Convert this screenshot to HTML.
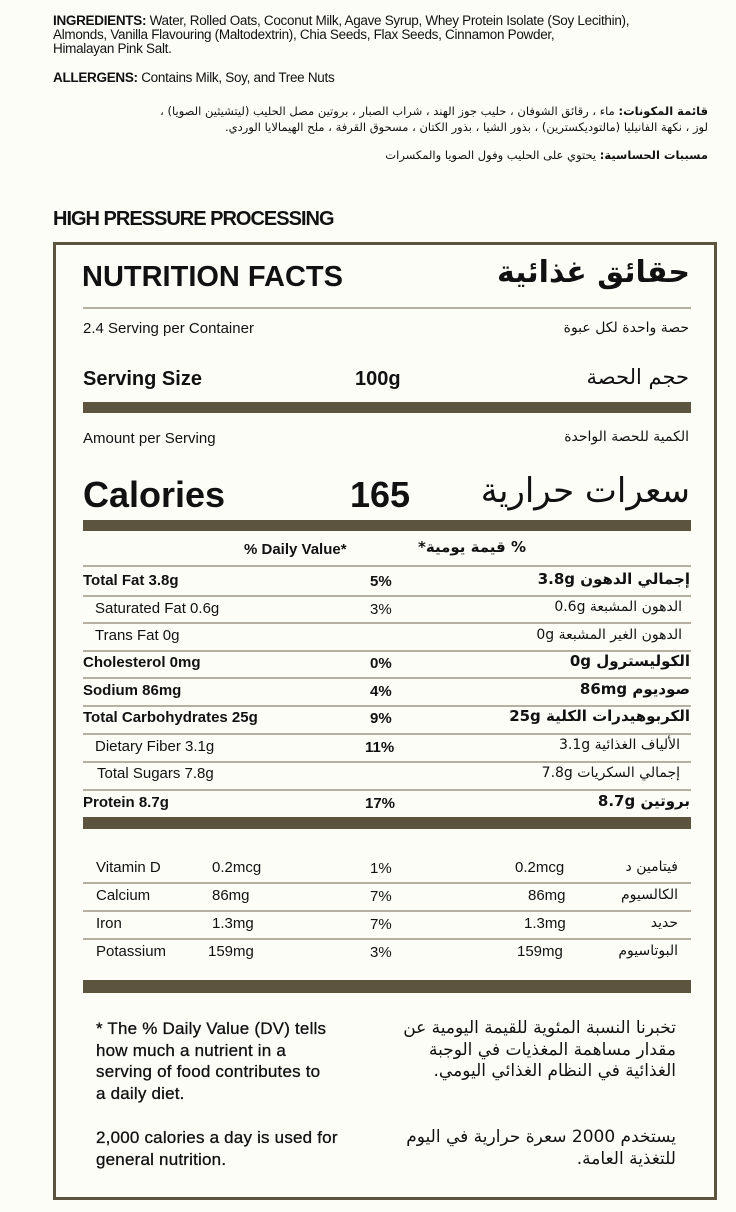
<!DOCTYPE html>
<html><head><meta charset="utf-8"><style>
body{margin:0;width:736px;height:1212px;background:#fdfdf8;position:relative;overflow:hidden;font-family:"Liberation Sans","DejaVu Sans",sans-serif;color:#111}
.a{position:absolute;white-space:nowrap;line-height:1}
.r{position:absolute;white-space:nowrap;line-height:1;direction:rtl;text-align:right;font-family:"DejaVu Sans",sans-serif}
.b{font-weight:bold}
.ln{position:absolute;left:83px;width:608px;height:2px;background:#b5b0a2}
.bar{position:absolute;left:83px;width:608px;background:#5d5440}
.box{position:absolute;left:53px;top:242px;width:658px;height:952px;border:3px solid #5d5440}
</style></head><body>
<div class="a" style="left:53px;top:14px;font-size:13.5px;letter-spacing:-0.3px"><b>INGREDIENTS:</b> Water, Rolled Oats, Coconut Milk, Agave Syrup, Whey Protein Isolate (Soy Lecithin),</div>
<div class="a" style="left:53px;top:28px;font-size:13.5px;letter-spacing:-0.3px">Almonds, Vanilla Flavouring (Maltodextrin), Chia Seeds, Flax Seeds, Cinnamon Powder,</div>
<div class="a" style="left:53px;top:42px;font-size:13.5px;letter-spacing:-0.3px">Himalayan Pink Salt.</div>
<div class="a" style="left:53px;top:71px;font-size:13.5px;letter-spacing:-0.3px"><b>ALLERGENS:</b> Contains Milk, Soy, and Tree Nuts</div>
<div class="r" style="right:28px;top:106px;font-size:11.5px"><b>قائمة المكونات:</b> ماء ، رقائق الشوفان ، حليب جوز الهند ، شراب الصبار ، بروتين مصل الحليب (ليتشيثين الصويا) ،</div>
<div class="r" style="right:28px;top:122px;font-size:11.5px">لوز ، نكهة الفانيليا (مالتوديكسترين) ، بذور الشيا ، بذور الكتان ، مسحوق القرفة ، ملح الهيمالايا الوردي.</div>
<div class="r" style="right:28px;top:150px;font-size:11.5px"><b>مسببات الحساسية:</b> يحتوي على الحليب وفول الصويا والمكسرات</div>
<div class="a b" style="left:53px;top:209px;font-size:20px;letter-spacing:-1px">HIGH PRESSURE PROCESSING</div>
<div class="box"></div>
<div class="a b" style="left:82px;top:263px;font-size:29px">NUTRITION FACTS</div>
<div class="r b" style="right:46px;top:258px;font-size:30px">حقائق غذائية</div>
<div class="ln" style="top:307px"></div>
<div class="a" style="left:83px;top:321px;font-size:15px">2.4 Serving per Container</div>
<div class="r" style="right:47px;top:321px;font-size:14px">حصة واحدة لكل عبوة</div>
<div class="a b" style="left:83px;top:369px;font-size:20px">Serving Size</div>
<div class="a b" style="left:355px;top:369px;font-size:20px">100g</div>
<div class="r" style="right:47px;top:367px;font-size:21px">حجم الحصة</div>
<div class="bar" style="top:402px;height:11px"></div>
<div class="a" style="left:83px;top:431px;font-size:15px">Amount per Serving</div>
<div class="r" style="right:47px;top:430px;font-size:14px">الكمية للحصة الواحدة</div>
<div class="a b" style="left:83px;top:477px;font-size:36px">Calories</div>
<div class="a b" style="left:350px;top:477px;font-size:36px">165</div>
<div class="r" style="right:46px;top:474px;font-size:34px">سعرات حرارية</div>
<div class="bar" style="top:520px;height:11px"></div>
<div class="a b" style="left:244px;top:542px;font-size:15px">% Daily Value*</div>
<div class="r b" style="right:210px;top:540px;font-size:15px">% قيمة يومية*</div>
<div class="ln" style="top:565px"></div>

<div class="a b" style="left:83px;top:573px;font-size:15px">Total Fat 3.8g</div><div class="a b" style="left:370px;top:574px;font-size:15px">5%</div><div class="r b" style="right:46px;top:572px;font-size:15px">إجمالي الدهون 3.8g</div>
<div class="ln" style="top:595px"></div>
<div class="a" style="left:95px;top:601px;font-size:15px">Saturated Fat 0.6g</div><div class="a" style="left:370px;top:602px;font-size:15px">3%</div><div class="r" style="right:54px;top:600px;font-size:14px">الدهون المشبعة 0.6g</div>
<div class="ln" style="top:622px"></div>
<div class="a" style="left:95px;top:628px;font-size:15px">Trans Fat 0g</div><div class="r" style="right:54px;top:628px;font-size:14px">الدهون الغير المشبعة 0g</div>
<div class="ln" style="top:650px"></div>
<div class="a b" style="left:83px;top:655px;font-size:15px">Cholesterol 0mg</div><div class="a b" style="left:370px;top:656px;font-size:15px">0%</div><div class="r b" style="right:46px;top:654px;font-size:15px">الكوليسترول 0g</div>
<div class="ln" style="top:677px"></div>
<div class="a b" style="left:83px;top:683px;font-size:15px">Sodium 86mg</div><div class="a b" style="left:370px;top:684px;font-size:15px">4%</div><div class="r b" style="right:46px;top:682px;font-size:15px">صوديوم 86mg</div>
<div class="ln" style="top:705px"></div>
<div class="a b" style="left:83px;top:710px;font-size:15px">Total Carbohydrates 25g</div><div class="a b" style="left:370px;top:711px;font-size:15px">9%</div><div class="r b" style="right:46px;top:709px;font-size:15px">الكربوهيدرات الكلية 25g</div>
<div class="ln" style="top:733px"></div>
<div class="a" style="left:95px;top:739px;font-size:15px">Dietary Fiber 3.1g</div><div class="a b" style="left:365px;top:740px;font-size:15px">11%</div><div class="r" style="right:56px;top:738px;font-size:14px">الألياف الغذائية 3.1g</div>
<div class="ln" style="top:761px"></div>
<div class="a" style="left:97px;top:766px;font-size:15px">Total Sugars 7.8g</div><div class="r" style="right:56px;top:766px;font-size:14px">إجمالي السكريات 7.8g</div>
<div class="ln" style="top:789px"></div>
<div class="a b" style="left:83px;top:795px;font-size:15px">Protein 8.7g</div><div class="a b" style="left:365px;top:796px;font-size:15px">17%</div><div class="r b" style="right:46px;top:794px;font-size:15px">بروتين 8.7g</div>
<div class="bar" style="top:817px;height:12px"></div>

<div class="a" style="left:96px;top:860px;font-size:15px">Vitamin D</div><div class="a" style="left:212px;top:860px;font-size:15px">0.2mcg</div><div class="a" style="left:370px;top:861px;font-size:15px">1%</div><div class="a" style="left:515px;top:860px;font-size:15px">0.2mcg</div><div class="r" style="right:58px;top:860px;font-size:14px">فيتامين د</div>
<div class="ln" style="top:882px"></div>
<div class="a" style="left:96px;top:888px;font-size:15px">Calcium</div><div class="a" style="left:212px;top:888px;font-size:15px">86mg</div><div class="a" style="left:370px;top:889px;font-size:15px">7%</div><div class="a" style="left:528px;top:888px;font-size:15px">86mg</div><div class="r" style="right:58px;top:888px;font-size:14px">الكالسيوم</div>
<div class="ln" style="top:910px"></div>
<div class="a" style="left:96px;top:916px;font-size:15px">Iron</div><div class="a" style="left:212px;top:916px;font-size:15px">1.3mg</div><div class="a" style="left:370px;top:917px;font-size:15px">7%</div><div class="a" style="left:524px;top:916px;font-size:15px">1.3mg</div><div class="r" style="right:58px;top:916px;font-size:14px">حديد</div>
<div class="ln" style="top:938px"></div>
<div class="a" style="left:96px;top:944px;font-size:15px">Potassium</div><div class="a" style="left:208px;top:944px;font-size:15px">159mg</div><div class="a" style="left:370px;top:945px;font-size:15px">3%</div><div class="a" style="left:517px;top:944px;font-size:15px">159mg</div><div class="r" style="right:58px;top:944px;font-size:14px">البوتاسيوم</div>
<div class="bar" style="top:980px;height:13px"></div>

<div class="a" style="left:96px;top:1018px;font-size:17px;line-height:21.5px;letter-spacing:0.2px;-webkit-text-stroke:0.3px #111">* The % Daily Value (DV) tells<br>how much a nutrient in a<br>serving of food contributes to<br>a daily diet.</div>
<div class="a" style="left:96px;top:1127px;font-size:17px;line-height:21.5px;letter-spacing:0.2px;-webkit-text-stroke:0.3px #111">2,000 calories a day is used for<br>general nutrition.</div>
<div class="r" style="right:60px;top:1018px;font-size:17px;line-height:21.5px">تخبرنا النسبة المئوية للقيمة اليومية عن<br>مقدار مساهمة المغذيات في الوجبة<br>الغذائية في النظام الغذائي اليومي.</div>
<div class="r" style="right:60px;top:1127px;font-size:17px;line-height:21.5px">يستخدم 2000 سعرة حرارية في اليوم<br>للتغذية العامة.</div>
</body></html>
